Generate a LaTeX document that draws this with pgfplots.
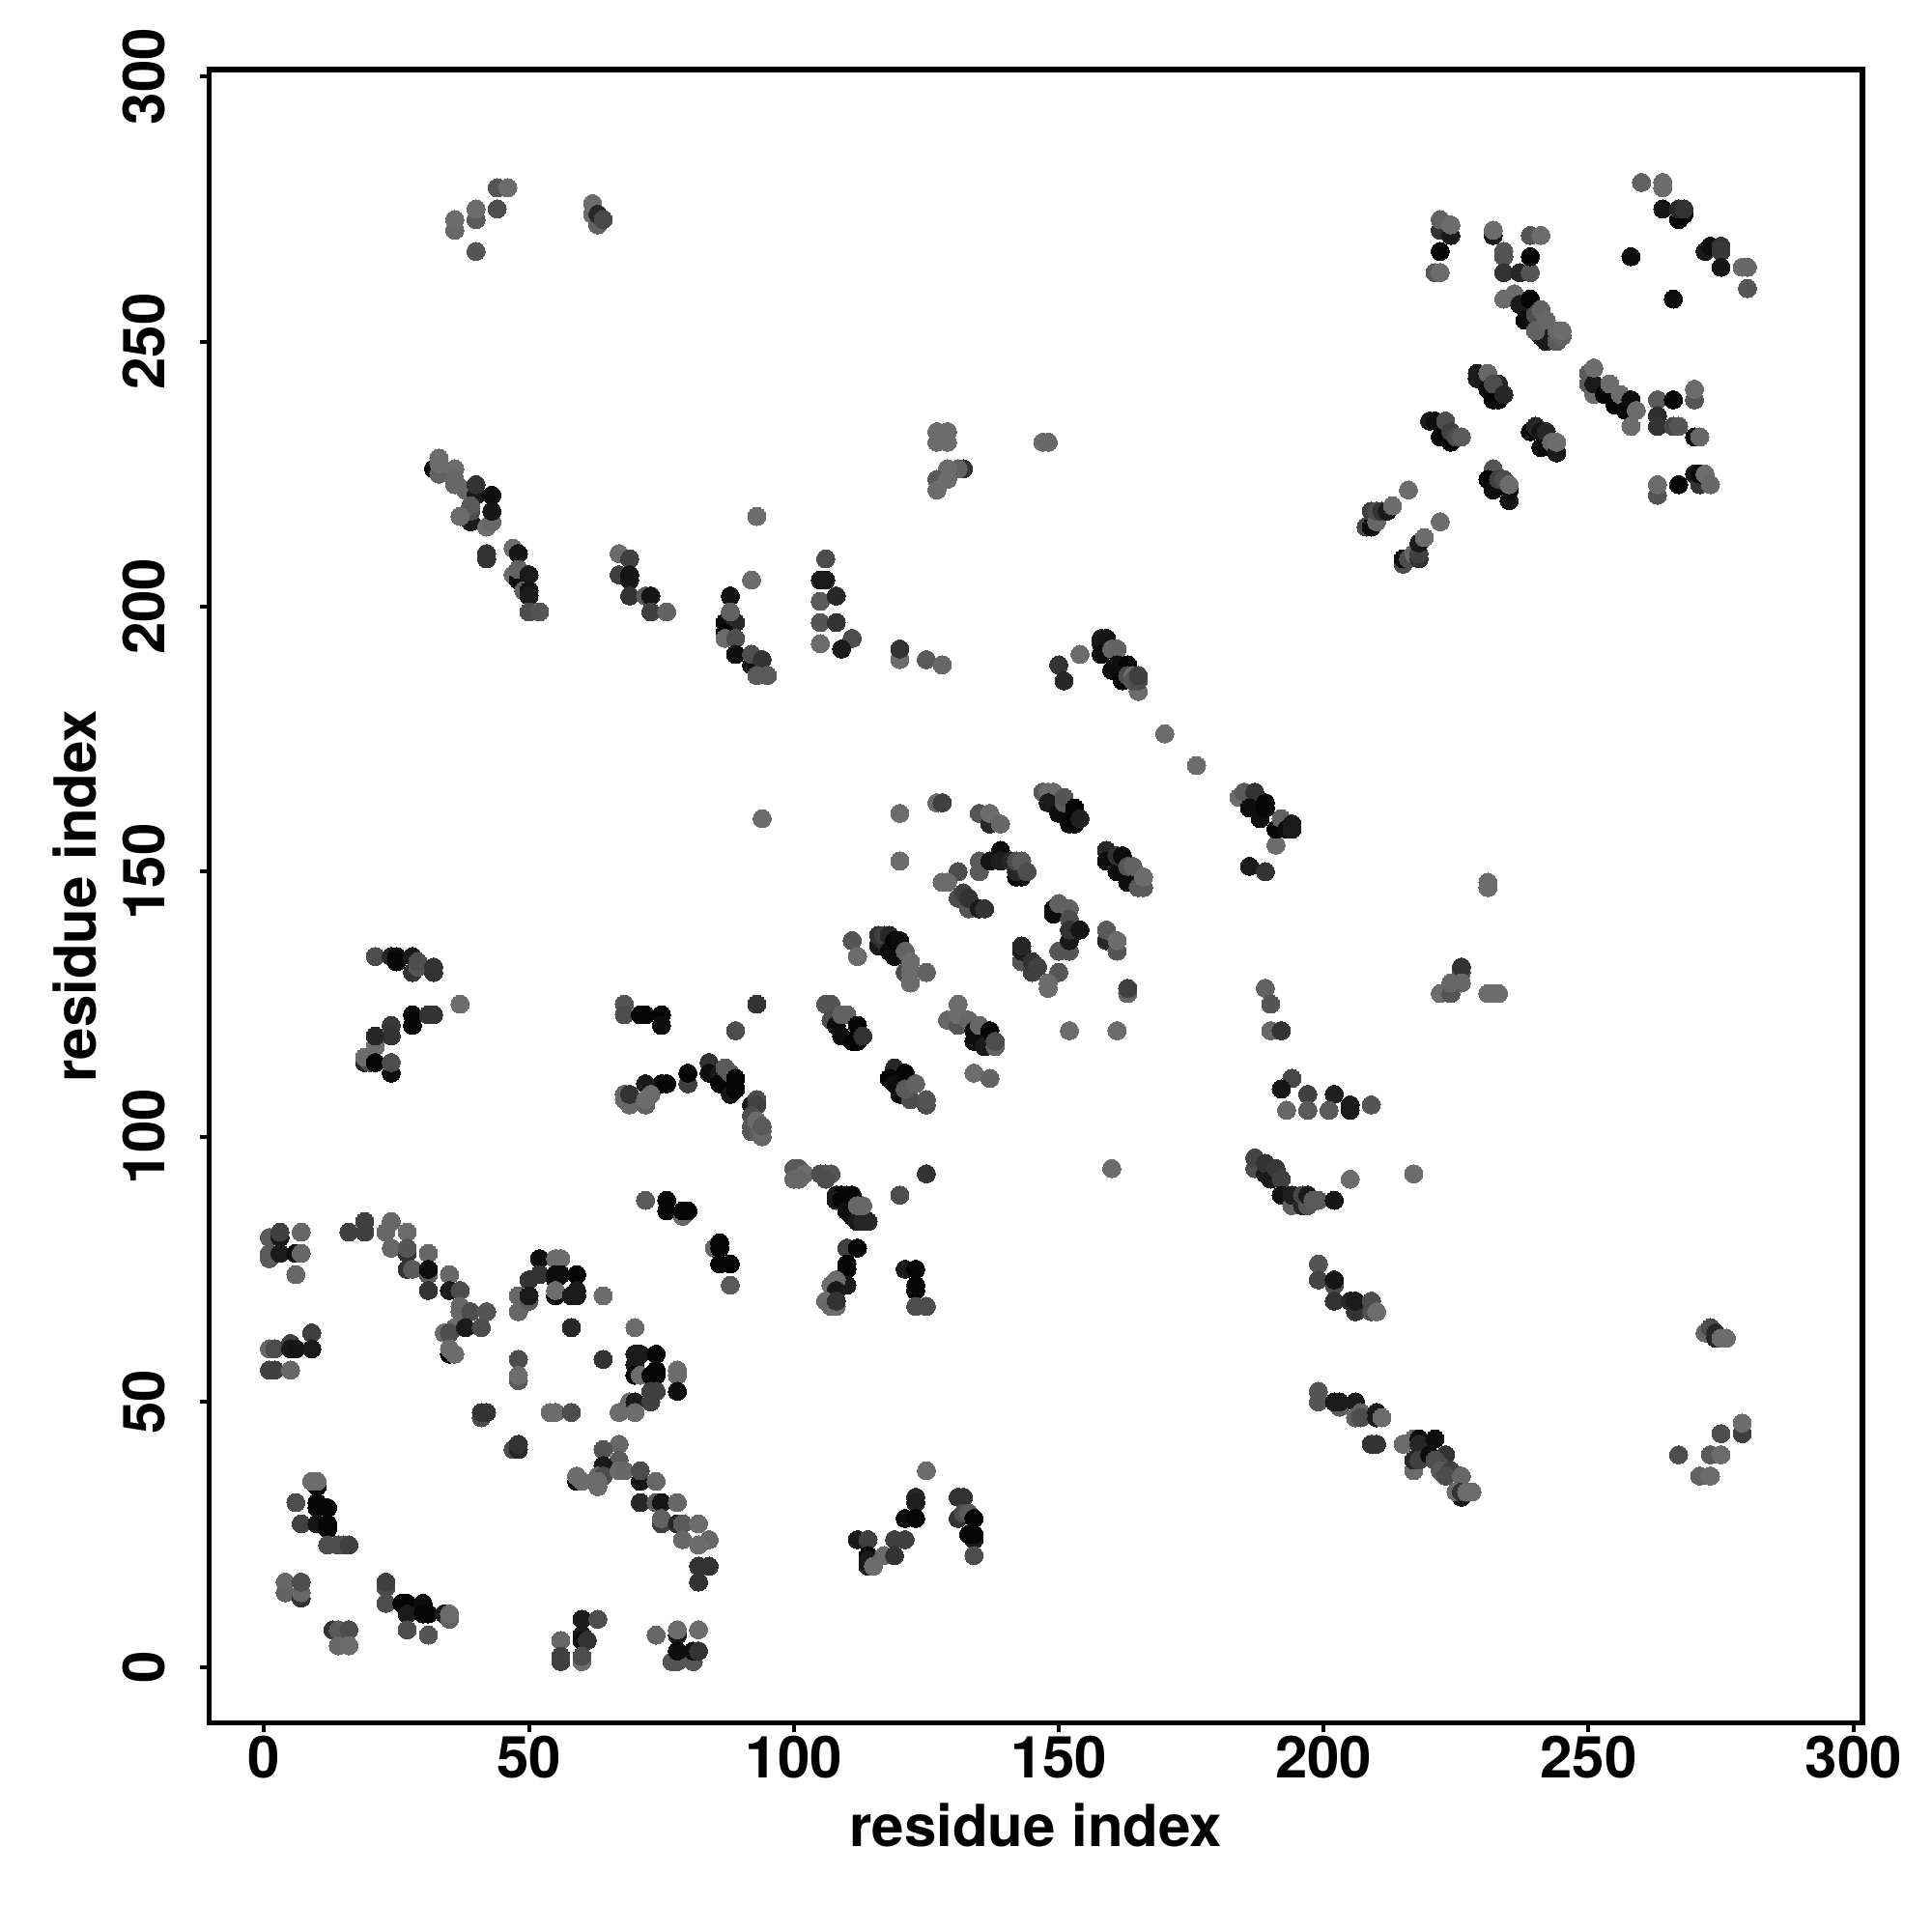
\documentclass[border=0pt]{standalone}
\usepackage{fontspec}
\setmainfont{TeX Gyre Heros}
\usepackage{pgfplots}
\pgfplotsset{compat=1.18}
\begin{document}
\begin{tikzpicture}
\path[use as bounding box] (0,0) rectangle (500pt,500pt);
\begin{axis}[
  at={(54.1pt,54.1pt)}, anchor=south west, scale only axis,
  width=427.9pt, height=427.9pt,
  xmin=-10.39, xmax=301.7, ymin=-10.57, ymax=301.3,
  axis line style={line width=1.33pt, black},
  tick style={line width=1pt, black},
  tick align=outside, major tick length=2.4pt,
  xtick={0,50,...,300}, ytick={0,50,...,300},
  xtick pos=bottom, ytick pos=left,
  /pgf/number format/assume math mode=true,
  tick label style={font=\bfseries\fontsize{15}{15}\selectfont},
  yticklabel style={rotate=90, anchor=south},
  yticklabel shift=5.4pt, xticklabel shift=-2.5pt,
  xlabel={\bfseries\fontsize{15}{15}\selectfont residue index},
  xlabel style={yshift=0.6pt},
  ylabel={\bfseries\fontsize{15}{15}\selectfont residue index},
  colormap/blackwhite, point meta min=0, point meta max=1,
]
\addplot[scatter, only marks, mark=*, mark size=2.35pt, point meta=explicit,
  mark options={line width=0pt},
  scatter/use mapped color={draw=mapped color, fill=mapped color}]
coordinates {
(1,81)[.35] (1,78)[.35] (1,77)[.35] (3,81)[.1] (3,82)[.25] (3,78)[.1] (6,78)[.05] (7,82)[.4] (7,78)[.4] (6,74)[.4]
(16,82)[.25] (19,84)[.25] (19,82)[.25] (24,84)[.4] (23,82)[.4] (24,79)[.4] (27,82)[.42] (27,78)[.2] (27,79)[.33] (27,75)[.2] (28,75)[.35]
(31,78)[.4] (31,74)[.35] (31,75)[.05] (31,71)[.2] (35,74)[.4] (35,71)[.1] (37,71)[.3] (37,68)[.4] (37,67)[.4] (39,67)[.3] (42,67)[.33]
(34,63)[.42] (36,64)[.42] (35,63)[.3] (38,64)[.1] (41,64)[.3] (35,59)[.02] (35,60)[.42] (36,59)[.42]
(1,60)[.4] (2,60)[.3] (5,61)[.25] (5,60)[.1] (6,60)[.08] (9,63)[.25] (9,60)[.1] (1,56)[.25] (2,56)[.25] (5,56)[.4]
(41,47)[.3] (41,48)[.2] (42,48)[.2] (47,41)[.3] (48,41)[.15] (48,42)[.2]
(48,58)[.3] (48,54)[.35] (48,55)[.42]
(52,77)[.05] (55,77)[.42] (56,77)[.42] (50,73)[.2] (52,74)[.2] (55,74)[.05] (56,74)[.05] (59,74)[.02] (55,73)[.05]
(48,70)[.4] (48,67)[.4] (50,69)[.35] (50,70)[.1] (55,70)[.02] (55,71)[.42] (58,70)[.1] (59,71)[.1] (59,70)[.1] (64,70)[.42]
(58,64)[.15] (70,64)[.42] (64,58)[.2]
(70,59)[.1] (71,59)[.1] (74,59)[.02] (70,57)[.1] (70,55)[.02] (71,55)[.42] (73,55)[.02] (74,56)[.02] (74,55)[.02] (78,56)[.42] (78,55)[.42]
(69,50)[.42] (70,50)[.1] (73,52)[.25] (74,52)[.25] (78,52)[.05] (73,50)[.25] (67,48)[.42] (70,48)[.42]
(54,48)[.42] (55,48)[.42] (58,48)[.3]
(67,42)[.4] (64,41)[.33] (67,39)[.35] (64,38)[.1] (59,35)[.02] (59,36)[.42] (60,35)[.42] (63,36)[.4] (64,36)[.3] (63,35)[.42] (63,34)[.42]
(67,37)[.42] (68,37)[.4] (71,35)[.08] (71,37)[.3] (74,35)[.4] (71,31)[.15] (74,31)[.35] (75,31)[.08] (78,31)[.4]
(75,27)[.25] (75,28)[.38] (78,27)[.15] (79,27)[.35] (82,27)[.42] (79,24)[.4] (84,24)[.4] (82,23)[.42] (82,19)[.2] (84,19)[.2] (82,16)[.2]
(10,34)[.02] (9,35)[.42] (10,35)[.42] (6,31)[.3] (10,31)[.02] (10,30)[.02] (12,30)[.02] (7,27)[.25] (10,27)[.08] (12,27)[.02] (12,26)[.02]
(12,23)[.3] (14,23)[.3] (15,23)[.3] (16,23)[.25]
(4,14)[.38] (4,16)[.4] (7,13)[.2] (7,14)[.4] (7,16)[.3]
(23,12)[.3] (23,15)[.3] (23,16)[.25] (26,12)[.02] (27,12)[.02] (30,12)[.05] (27,10)[.1] (30,10)[.02] (31,10)[.02] (34,10)[.1] (35,9)[.38] (35,10)[.42] (27,7)[.3] (31,6)[.33]
(13,7)[.2] (14,7)[.35] (16,7)[.3] (14,4)[.4] (16,4)[.42]
(60,9)[.1] (63,9)[.3] (56,5)[.4] (60,6)[.1] (60,5)[.05] (61,5)[.2] (56,2)[.25] (56,1)[.25] (60,1)[.42] (60,2)[.3]
(74,6)[.4] (78,6)[.1] (78,7)[.42] (82,7)[.42] (77,1)[.33] (78,1)[.33] (81,1)[.33] (78,3)[.05] (81,3)[.05] (82,3)[.2]
(72,88)[.35] (76,88)[.02] (76,86)[.02] (79,85)[.4] (79,86)[.02] (80,86)[.02] (85,79)[.4] (86,80)[.02] (86,79)[.02] (86,76)[.02] (88,76)[.02] (88,72)[.35]
(125,93)[.2] (120,89)[.3] (160,94)[.42]
(100,94)[.35] (101,94)[.35] (100,92)[.4] (102,93)[.42] (101,92)[.4] (105,93)[.3] (106,93)[.3] (107,93)[.33] (106,92)[.3]
(108,89)[.1] (109,89)[.02] (110,89)[.02] (111,89)[.02] (108,88)[.1] (109,88)[.02] (110,86)[.05] (111,85)[.05] (112,84)[.1] (113,84)[.15] (114,84)[.15] (112,87)[.4] (113,87)[.4]
(110,79)[.25] (112,79)[.02] (110,76)[.02] (110,75)[.02] (110,72)[.1] (108,73)[.42] (107,72)[.42] (108,71)[.1] (106,69)[.42] (107,68)[.4] (108,68)[.42] (108,69)[.2]
(121,75)[.1] (123,75)[.02] (123,72)[.02] (123,71)[.02] (123,68)[.3] (125,68)[.3]
(125,37)[.42] (123,32)[.15] (123,31)[.12] (121,28)[.05] (123,28)[.02] (131,32)[.2] (132,32)[.2] (131,28)[.2] (132,29)[.3] (133,29)[.35] (134,28)[.02] (134,24)[.1] (133,25)[.02] (134,25)[.02] (134,21)[.3]
(112,24)[.1] (114,24)[.25] (119,24)[.25] (121,24)[.25] (114,21)[.05] (114,20)[.1] (114,19)[.1] (115,19)[.42] (117,21)[.42] (119,21)[.2]
(205,92)[.42] (217,93)[.42]
(187,94)[.3] (187,96)[.27] (189,93)[.1] (189,95)[.2] (190,92)[.1] (191,94)[.22] (192,92)[.25] (192,89)[.07] (194,87)[.38] (194,89)[.12] (196,87)[.15] (196,89)[.28] (197,87)[.33] (197,89)[.1] (198,88)[.35] (199,88)[.35] (202,88)[.08]
(199,76)[.33] (199,73)[.27] (202,72)[.3] (202,73)[.08] (202,69)[.2] (205,69)[.15] (206,67)[.2] (206,69)[.1] (209,69)[.3] (209,67)[.3] (210,67)[.42]
(199,52)[.33] (199,50)[.33] (203,49)[.35] (202,50)[.1] (203,50)[.1] (206,50)[.1] (206,47)[.38] (207,48)[.38] (207,47)[.3] (210,48)[.1] (210,47)[.1] (211,47)[.42]
(209,42)[.2] (210,42)[.2] (215,42)[.42] (217,43)[.42] (218,43)[.05] (218,42)[.15] (221,43)[.05] (217,37)[.42] (217,39)[.15] (218,39)[.25] (220,40)[.05] (223,40)[.2] (221,39)[.3] (222,38)[.3] (222,37)[.35] (224,37)[.25] (223,36)[.3] (226,36)[.4] (226,32)[.1] (225,33)[.42] (226,33)[.2] (227,33)[.42] (228,33)[.42]
(279,44)[.25] (279,46)[.42] (275,44)[.3] (267,40)[.3] (273,40)[.35] (275,40)[.42] (271,36)[.38] (273,36)[.42]
(272,63)[.4] (273,64)[.3] (274,63)[.15] (274,62)[.15] (275,62)[.42] (276,62)[.42]
(21,134)[.3] (24,134)[.15] (25,134)[.05] (25,133)[.02] (28,134)[.1] (28,131)[.2] (29,132)[.33] (29,133)[.3] (32,132)[.2] (32,131)[.2]
(37,125)[.42] (28,123)[.02] (31,123)[.2] (32,123)[.2] (28,121)[.02] (24,121)[.22] (24,119)[.2] (21,117)[.42] (21,119)[.15] (19,114)[.15] (20,114)[.3] (19,115)[.42] (21,114)[.02] (24,112)[.05] (24,114)[.3]
(68,125)[.33] (68,123)[.3] (71,123)[.02] (72,123)[.02] (75,123)[.02] (75,121)[.05] (93,125)[.2] (89,120)[.3]
(80,110)[.25] (80,112)[.02] (76,110)[.02] (75,110)[.02] (72,110)[.1] (68,108)[.4] (68,107)[.4] (69,106)[.4] (69,108)[.2] (72,106)[.38] (72,107)[.42] (73,108)[.42]
(84,114)[.2] (84,112)[.05] (86,112)[.1] (86,110)[.02] (87,113)[.35] (88,112)[.35] (88,108)[.08] (89,109)[.02] (89,111)[.02]
(92,106)[.1] (93,107)[.3] (93,106)[.25] (92,104)[.3] (92,102)[.35] (92,101)[.35] (93,103)[.42] (94,100)[.38] (94,101)[.4] (94,102)[.35]
(94,160)[.42]
(87,197)[.05] (89,197)[.15] (87,195)[.02] (87,194)[.42] (89,194)[.3] (89,191)[.05] (92,189)[.05] (92,191)[.3] (94,190)[.2] (93,187)[.35] (95,187)[.35]
(105,197)[.33] (108,197)[.2] (105,193)[.42] (111,194)[.3] (109,192)[.1]
(120,190)[.42] (120,192)[.2] (125,190)[.35] (128,189)[.4]
(150,189)[.2] (151,186)[.15] (154,191)[.42]
(158,193)[.1] (158,194)[.1] (159,194)[.08] (158,191)[.05] (160,192)[.4] (161,192)[.38] (160,188)[.05] (161,189)[.05] (163,189)[.02] (162,187)[.05] (162,186)[.02] (165,184)[.42] (163,187)[.3] (164,187)[.42] (164,186)[.33] (165,186)[.3] (165,187)[.25]
(170,176)[.42] (176,170)[.42]
(184,164)[.42] (185,165)[.35] (187,165)[.2] (186,162)[.05] (189,163)[.02] (188,160)[.05] (189,162)[.02] (191,155)[.42] (191,158)[.02] (192,160)[.38] (193,158)[.05] (194,159)[.1] (194,158)[.1] (186,151)[.1] (189,150)[.2]
(147,165)[.35] (148,165)[.42] (149,165)[.42] (148,163)[.1] (150,161)[.05] (152,159)[.02] (153,159)[.02] (151,163)[.35] (151,164)[.33] (153,162)[.02] (154,160)[.12]
(127,163)[.42] (128,163)[.25] (120,161)[.42] (120,152)[.42]
(135,161)[.33] (137,159)[.15] (137,161)[.42] (139,159)[.4]
(135,152)[.35] (135,150)[.35] (137,152)[.08] (139,154)[.05] (139,152)[.12] (141,152)[.15] (142,149)[.02] (143,149)[.05] (142,150)[.15] (142,152)[.3] (143,152)[.35] (144,150)[.3]
(131,150)[.3] (128,148)[.42] (129,148)[.42]
(131,145)[.3] (132,146)[.25] (133,143)[.33] (133,145)[.2] (135,143)[.1] (136,143)[.2]
(159,154)[.15] (159,152)[.05] (161,150)[.05] (161,153)[.2] (162,153)[.05] (163,148)[.05] (163,151)[.33] (164,151)[.38] (165,147)[.35] (166,147)[.35] (166,149)[.42]
(149,143)[.05] (149,142)[.05] (150,144)[.38] (152,143)[.38] (152,141)[.3] (150,135)[.33] (152,135)[.33] (152,137)[.1] (152,139)[.2] (154,139)[.08]
(159,137)[.15] (159,139)[.35] (161,135)[.33] (161,137)[.42]
(143,133)[.33] (143,135)[.1] (143,136)[.15] (145,131)[.25] (145,133)[.2] (146,132)[.25] (150,131)[.33] (148,128)[.42] (148,129)[.42]
(163,127)[.38] (163,128)[.25] (152,120)[.42] (161,120)[.42]
(189,128)[.38] (190,125)[.33] (190,120)[.4] (192,120)[.2] (194,111)[.28] (192,109)[.08] (193,105)[.4]
(111,137)[.33] (112,134)[.42]
(116,136)[.1] (116,138)[.2] (117,137)[.2] (117,138)[.25] (118,138)[.15] (118,135)[.05] (119,134)[.05] (119,137)[.02] (120,137)[.05] (121,131)[.3] (121,135)[.38] (122,133)[.42] (122,131)[.42] (122,129)[.42] (125,131)[.38]
(106,125)[.33] (107,125)[.33] (107,122)[.3] (108,121)[.05] (109,119)[.05] (109,123)[.38] (110,123)[.38] (111,118)[.02] (112,118)[.02] (112,121)[.02] (113,119)[.2]
(131,125)[.42] (129,122)[.4] (131,121)[.33] (131,123)[.42] (133,122)[.4] (134,118)[.05] (134,120)[.05] (135,121)[.4] (136,117)[.1] (137,120)[.02] (138,117)[.38] (138,118)[.3]
(134,112)[.42] (137,111)[.38]
(119,113)[.15] (118,111)[.02] (119,110)[.05] (120,108)[.05] (121,112)[.02] (122,107)[.3] (121,109)[.35] (123,110)[.38] (125,106)[.3] (125,107)[.33]
(231,148)[.42] (231,147)[.42] (226,131)[.3] (226,132)[.2] (226,129)[.4] (222,127)[.42] (224,127)[.33] (224,129)[.4] (231,127)[.42] (232,127)[.42] (233,127)[.42]
(197,108)[.25] (202,108)[.12] (205,105)[.1] (205,106)[.1] (209,106)[.33] (197,105)[.35] (201,105)[.35]
(44,279)[.33] (46,279)[.42] (44,275)[.3] (40,273)[.35] (40,275)[.42] (36,271)[.4] (36,273)[.42] (40,267)[.33]
(62,274)[.42] (62,276)[.42] (63,272)[.38] (63,274)[.15] (64,273)[.28]
(32,226)[.05] (33,225)[.38] (33,227)[.42] (33,228)[.42] (36,226)[.42] (36,224)[.4] (36,223)[.4] (38,222)[.4] (40,221)[.1] (40,223)[.2] (43,221)[.06]
(39,216)[.1] (39,218)[.3] (39,219)[.35] (37,217)[.42] (42,215)[.42] (43,216)[.4] (43,218)[.08] (42,210)[.2] (42,209)[.2]
(47,211)[.42] (48,210)[.08] (47,206)[.42] (48,205)[.05] (48,207)[.38] (50,206)[.1] (49,203)[.38] (50,203)[.08] (50,202)[.1] (50,199)[.3] (52,199)[.33]
(67,210)[.42] (69,209)[.25] (67,206)[.25] (69,205)[.1] (69,206)[.08] (69,202)[.2] (72,202)[.35] (73,202)[.08] (73,199)[.25] (76,199)[.38]
(93,217)[.42] (92,205)[.42] (88,202)[.07] (88,199)[.38]
(127,233)[.42] (129,233)[.42] (127,231)[.42] (129,231)[.42] (128,232)[.42]
(132,226)[.2] (131,226)[.38] (129,226)[.42] (127,224)[.35] (129,224)[.42] (127,222)[.42]
(147,231)[.42] (148,231)[.4]
(106,209)[.3] (105,205)[.1] (106,205)[.1] (105,201)[.35] (108,202)[.15]
(260,280)[.38] (264,279)[.42] (264,280)[.42] (264,275)[.08] (267,273)[.02] (268,274)[.02] (267,275)[.15] (268,275)[.2] (258,266)[.05] (266,258)[.05]
(272,267)[.1] (273,268)[.05] (275,268)[.2] (275,267)[.22] (275,264)[.08] (279,264)[.42] (280,264)[.4] (280,260)[.33]
(222,271)[.2] (222,273)[.38] (224,270)[.1] (224,272)[.42] (222,267)[.02] (221,263)[.35] (222,263)[.42]
(232,270)[.1] (232,271)[.42] (234,267)[.33] (234,266)[.33] (234,263)[.2] (237,263)[.15] (239,263)[.33] (239,270)[.33] (241,270)[.42] (239,266)[.02] (234,258)[.42]
(236,259)[.42] (237,257)[.1] (239,258)[.02] (238,254)[.05] (241,251)[.1] (242,250)[.1] (242,253)[.1] (240,255)[.3] (241,256)[.38] (240,252)[.38] (242,254)[.4] (244,250)[.35] (244,252)[.4] (245,251)[.38] (245,252)[.42]
(229,243)[.1] (229,244)[.1] (231,244)[.4] (231,241)[.05] (232,239)[.02] (233,239)[.02] (233,242)[.15] (232,242)[.3] (234,240)[.15]
(220,235)[.1] (221,235)[.05] (222,232)[.02] (223,235)[.3] (224,231)[.02] (224,233)[.25] (225,232)[.3] (226,232)[.35]
(239,233)[.02] (240,234)[.15] (241,230)[.05] (241,233)[.08] (242,233)[.15] (243,230)[.05] (243,231)[.4] (244,229)[.1] (244,231)[.42]
(232,226)[.33] (231,224)[.02] (232,222)[.05] (233,224)[.25] (235,220)[.08] (235,222)[.05] (234,224)[.3] (235,223)[.42]
(216,222)[.42] (222,216)[.42] (208,215)[.28] (209,215)[.05] (209,218)[.25] (210,216)[.4] (210,218)[.3] (211,218)[.2] (212,218)[.1] (213,219)[.42]
(215,208)[.3] (215,209)[.05] (216,209)[.3] (217,210)[.4] (218,209)[.2] (218,210)[.25] (218,212)[.1] (219,213)[.42]
(250,244)[.35] (250,242)[.35] (251,240)[.42] (251,242)[.1] (251,245)[.42] (253,240)[.02] (254,242)[.42] (255,238)[.02] (256,240)[.42] (257,237)[.02] (258,239)[.05] (259,237)[.42] (258,234)[.42]
(263,239)[.35] (263,236)[.18] (266,239)[.02] (270,239)[.33] (270,241)[.42] (263,234)[.2] (266,234)[.28] (267,234)[.33] (270,232)[.05] (271,232)[.4]
(263,221)[.33] (263,223)[.42] (267,223)[.02] (270,225)[.1] (271,223)[.2] (271,225)[.03] (272,225)[.42] (273,223)[.4]
};
\end{axis}
\end{tikzpicture}
\end{document}
